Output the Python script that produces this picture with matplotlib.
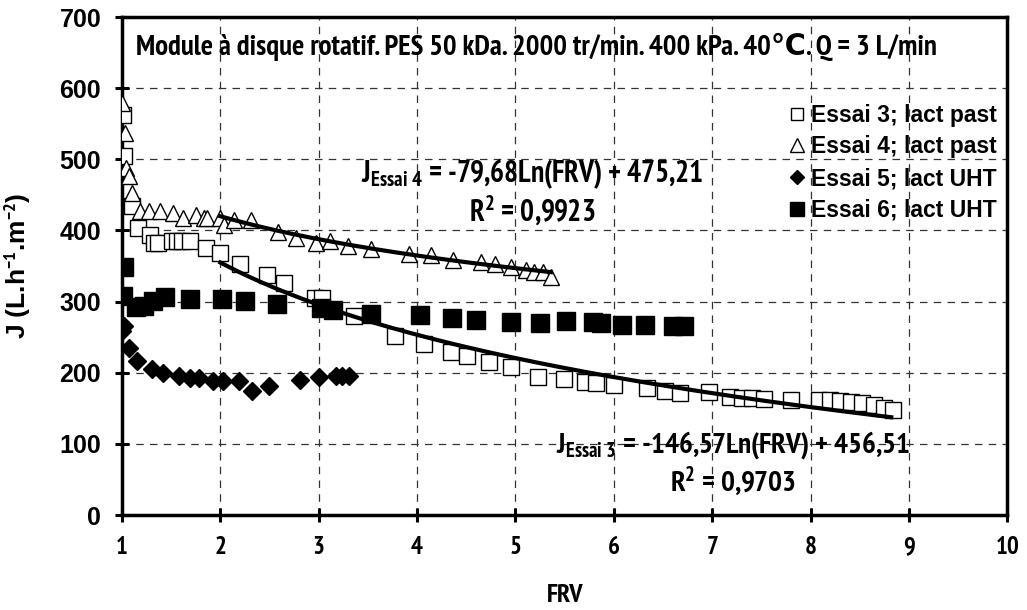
import numpy as np
import matplotlib
matplotlib.use("Agg")
import matplotlib.pyplot as plt
from matplotlib import font_manager as fm

# ---- data ----
x3 = [1.01, 1.02, 1.10, 1.16, 1.28, 1.33, 1.37, 1.51, 1.56, 1.61, 1.69, 1.85, 2.00, 2.20, 2.47, 2.65,
      2.96, 3.03, 3.36, 3.78, 4.07, 4.34, 4.51, 4.73, 4.95, 5.23, 5.49, 5.71, 5.82, 6.00, 6.34, 6.52,
      6.67, 6.97, 7.18, 7.30, 7.40, 7.53, 7.80, 8.09, 8.20, 8.30, 8.41, 8.52, 8.64, 8.75, 8.84]
y3 = [562, 504, 434, 404, 394, 383, 383, 385, 385, 385, 385, 376, 368, 353, 337, 326,
      305, 305, 280, 252, 241, 229, 224, 215, 208, 194, 191, 187, 186, 183, 178, 174,
      172, 173, 166, 165, 164, 163, 161, 161, 161, 160, 159, 157, 154, 150, 147]

x4 = [1.00, 1.03, 1.04, 1.07, 1.10, 1.18, 1.27, 1.39, 1.52, 1.62, 1.75, 1.83, 1.86, 2.00, 2.04, 2.14,
      2.31, 2.59, 2.77, 2.97, 3.11, 3.30, 3.53, 3.92, 4.14, 4.37, 4.65, 4.79, 4.95, 5.11, 5.19, 5.28, 5.36]
y4 = [579, 537, 488, 476, 453, 427, 427, 427, 425, 418, 422, 418, 417, 418, 408, 415,
      415, 398, 390, 383, 385, 378, 374, 367, 366, 359, 355, 353, 348, 344, 342, 342, 335]

x5 = [1.00, 1.02, 1.07, 1.15, 1.30, 1.42, 1.58, 1.69, 1.78, 1.92, 2.03, 2.19, 2.32, 2.49, 2.81,
      3.00, 3.18, 3.24, 3.31]
y5 = [259, 266, 235, 216, 205, 200, 195, 193, 192, 188, 188, 188, 174, 181, 190,
      194, 196, 196, 196]

x6 = [1.02, 1.01, 1.14, 1.22, 1.32, 1.44, 1.69, 2.02, 2.25, 2.58, 3.02, 3.14, 3.53, 4.03, 4.35,
      4.60, 4.95, 5.25, 5.51, 5.79, 5.87, 6.08, 6.32, 6.60, 6.71]
y6 = [349, 308, 292, 294, 301, 306, 304, 304, 301, 297, 291, 288, 283, 281, 277,
      274, 272, 270, 273, 271, 270, 267, 267, 265, 265]

# trend-line coefficients (a*ln(x)+b) and ranges
fit3 = (-146.57, 456.51, 2.0, 8.82)
fit4 = (-79.68, 475.21, 2.0, 5.36)

labels = ["Essai 3; lact past", "Essai 4; lact past", "Essai 5; lact UHT", "Essai 6; lact UHT"]
xticks = list(range(1, 11))
yticks = list(range(0, 701, 100))

title = "Module à disque rotatif. PES 50 kDa. 2000 tr/min. 400 kPa. 40℃. Q = 3 L/min"
eq4 = r"J$_{Essai\ 4}$ = -79,68Ln(FRV) + 475,21"
r4 = r"R$^2$ = 0,9923"
eq3 = r"J$_{Essai\ 3}$ = -146,57Ln(FRV) + 456,51"
r3 = r"R$^2$ = 0,9703"

# ---- fonts: a condensed family that really has a bold face ----
def has_bold(name):
    for f in fm.fontManager.ttflist:
        if f.name == name and f.style == 'normal':
            w = f.weight
            if isinstance(w, str):
                if w in ('bold', 'heavy', 'black', 'extra bold', 'semibold', 'demibold', 'demi'):
                    return True
            elif w >= 600:
                return True
    return False

cands = ['Liberation Sans Narrow', 'Arial Narrow', 'Nimbus Sans Narrow', 'PT Sans Narrow',
         'Archivo Narrow', 'Roboto Condensed', 'Open Sans Condensed', 'Asap Condensed',
         'Barlow Semi Condensed', 'Encode Sans Condensed', 'IBM Plex Sans Condensed',
         'Fira Sans Condensed', 'Barlow Condensed', 'Saira Semi Condensed']
NARROW = next((n for n in cands if has_bold(n)), 'Liberation Sans')
narrow = [NARROW, 'DejaVu Sans']
WIDE = ['Liberation Sans', 'DejaVu Sans']

plt.rcParams['font.family'] = WIDE
plt.rcParams['font.weight'] = 'bold'
plt.rcParams['mathtext.fontset'] = 'custom'
plt.rcParams['mathtext.rm'] = NARROW + ':bold'
plt.rcParams['mathtext.it'] = NARROW + ':bold'
plt.rcParams['mathtext.bf'] = NARROW + ':bold'

fig = plt.figure(figsize=(10.27, 6.10), dpi=100)
ax = fig.add_axes([0.1188, 0.1557, 0.862, 0.8164])

ax.set_xlim(1, 10)
ax.set_ylim(0, 700)
ax.set_xticks(xticks)
ax.set_yticks(yticks)
ax.grid(True, color='#333333', linestyle=(0, (6, 5)), linewidth=0.9)
ax.set_axisbelow(True)

for s in ax.spines.values():
    s.set_linewidth(2.5)
ax.tick_params(direction='inout', length=10, width=2.2)
ax.tick_params(axis='y', labelsize=18, pad=10)
ax.tick_params(axis='x', labelsize=18, pad=10, labelfontfamily=NARROW)

ax.plot(x3, y3, linestyle='none', marker='s', ms=11.5, mfc='white', mec='black', mew=1.0, label=labels[0], zorder=3)
ax.plot(x4, y4, linestyle='none', marker='^', ms=12, mfc='white', mec='black', mew=1.0, label=labels[1], zorder=3)
ax.plot(x5, y5, linestyle='none', marker='D', ms=8.7, mfc='black', mec='black', label=labels[2], zorder=4)
ax.plot(x6, y6, linestyle='none', marker='s', ms=12.5, mfc='black', mec='black', label=labels[3], zorder=4)

for a, b, x0, x1 in (fit3, fit4):
    xx = np.linspace(x0, x1, 200)
    ax.plot(xx, a * np.log(xx) + b, color='black', lw=3, zorder=5)

leg = ax.legend(loc='upper right', bbox_to_anchor=(0.988, 0.826), frameon=False,
                handlelength=0.6, handletextpad=0.3, labelspacing=0.38, borderpad=0,
                fontsize=16.5, markerscale=0.8, borderaxespad=0)
for t in leg.get_texts():
    t.set_fontweight('bold')
    t.set_family(WIDE)

t_title = ax.text(1.14, 658, title, family=narrow, fontsize=16, fontweight='bold', va='center', ha='left')
t_eq4 = ax.text(5.17, 479, eq4, family=narrow, fontsize=18, fontweight='bold', ha='center', va='center')
t_r4 = ax.text(5.17, 428, r4, family=narrow, fontsize=18, fontweight='bold', ha='center', va='center')
t_eq3 = ax.text(7.21, 98, eq3, family=narrow, fontsize=18, fontweight='bold', ha='center', va='center')
t_r3 = ax.text(7.21, 47, r3, family=narrow, fontsize=18, fontweight='bold', ha='center', va='center')

ax.set_xlabel("FRV", fontsize=19, fontweight='bold', family=narrow)
ax.xaxis.set_label_coords(0.5, -0.138)
ax.set_ylabel(r"J (L.h$^{-1}$.m$^{-2}$)", fontsize=19, fontweight='bold')
ax.yaxis.set_label_coords(-0.101, 0.5)

# fit text widths to the reference's measured pixel widths
fig.canvas.draw()
r = fig.canvas.get_renderer()
for t, target, partners in ((t_title, 800, []), (t_eq4, 343, [t_r4]), (t_eq3, 355, [t_r3])):
    w = t.get_window_extent(r).width
    fs = t.get_fontsize() * target / w
    t.set_fontsize(fs)
    for p in partners:
        p.set_fontsize(fs)

fig.savefig("out.png", dpi=100)
